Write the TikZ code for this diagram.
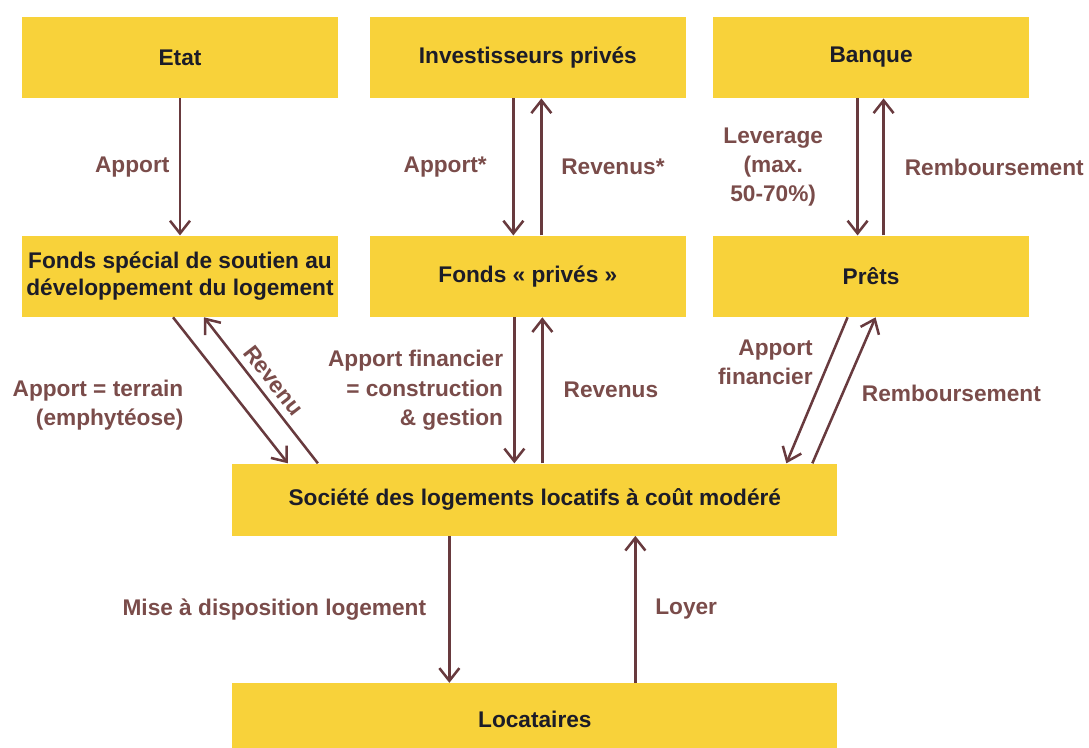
\documentclass[tikz,border=0pt]{standalone}
\usepackage{fontspec}
\setmainfont{Liberation Sans}
\usetikzlibrary{positioning, arrows.meta, calc}

\definecolor{boxyellow}{RGB}{248,210,58}
\definecolor{flowbrown}{RGB}{104,58,62}
\definecolor{lblbrown}{RGB}{122,76,74}
\definecolor{boxtext}{RGB}{28,28,40}

\begin{document}
\begin{tikzpicture}[
  x=0.75pt, y=-0.75pt,
  node distance=102.75pt and 23pt,
  box/.style={rectangle, fill=boxyellow, text=boxtext, minimum width=237.5pt, minimum height=61pt, inner sep=0pt, align=center, font=\bfseries\fontsize{17}{20}\selectfont},
  widebox/.style={box, minimum width=453.75pt, minimum height=54pt},
  lbl/.style={text=lblbrown, inner sep=0pt, font=\bfseries\fontsize{17}{22}\selectfont},
  arr/.style={-{Straight Barb[length=9.5pt, width=15pt]}, flowbrown, line width=1.9pt}
]
  \useasboundingbox (0,0) rectangle (1089,747);
  % top row
  \node[box] (etat) at (180,57.5) {Etat};
  \node[box, right=of etat] (invest) {Investisseurs privés};
  \node[box, right=19.5pt of invest] (banque) {Banque};
  % middle row
  \node[box, below=of etat] (fspecial) {Fonds spécial de soutien au\\développement du logement};
  \node[box, below=of invest] (fprive) {Fonds « privés »};
  \node[box, below=of banque] (prets) {Prêts};
  % bottom
  \node[widebox, below=109.5pt of fprive, xshift=5.25pt] (societe) {Société des logements locatifs à coût modéré};
  \node[widebox, below=110.25pt of societe] (locataires) {Locataires};

  \draw[arr] (etat) -- node[lbl, left=7pt] {Apport} (fspecial);
  \draw[arr] ($(invest.south)+(-14.5,0)$) -- node[lbl, left=19pt] {Apport*} ($(fprive.north)+(-14.5,0)$);
  \draw[arr] ($(fprive.north)+(13.5,0)$) -- node[lbl, right=14pt] {Revenus*} ($(invest.south)+(13.5,0)$);
  \draw[arr] ($(banque.south)+(-13.5,0)$) -- node[lbl, left=25pt, align=center] {Leverage\\(max.\\50-70\%)} ($(prets.north)+(-13.5,0)$);
  \draw[arr] ($(prets.north)+(12.5,0)$) -- node[lbl, right=15pt] {Remboursement} ($(banque.south)+(12.5,0)$);

  \draw[arr] ($(fspecial.south)+(-7,0)$) -- node[lbl, pos=0.6, left=43pt, align=right] {Apport = terrain\\(emphytéose)} ($(societe.north)+(-247,0)$);
  \draw[arr] ($(societe.north)+(-217,0)$) -- node[lbl, sloped, above=5pt] {Revenu} ($(fspecial.south)+(24,0)$);
  \draw[arr] ($(fprive.south)+(-13.5,0)$) -- node[lbl, left=7.5pt, align=right] {Apport financier\\= construction\\\& gestion} ($(societe.north)+(-20.5,0)$);
  \draw[arr] ($(societe.north)+(7.5,0)$) -- node[lbl, right=15pt] {Revenus} ($(fprive.south)+(14.5,0)$);
  \draw[arr] ($(prets.south)+(-23.5,0)$) -- node[lbl, pos=0.31, left=11pt, align=right] {Apport\\financier} ($(societe.north)+(251.5,0)$);
  \draw[arr] ($(societe.north)+(277.5,0)$) -- node[lbl, pos=0.48, right=13.5pt] {Remboursement} ($(prets.south)+(4.5,0)$);

  \draw[arr] ($(societe.south)+(-85.5,0)$) -- node[lbl, left=16.5pt] {Mise à disposition logement} ($(locataires.north)+(-85.5,0)$);
  \draw[arr] ($(locataires.north)+(100.5,0)$) -- node[lbl, right=14pt] {Loyer} ($(societe.south)+(100.5,0)$);
\end{tikzpicture}
\end{document}
